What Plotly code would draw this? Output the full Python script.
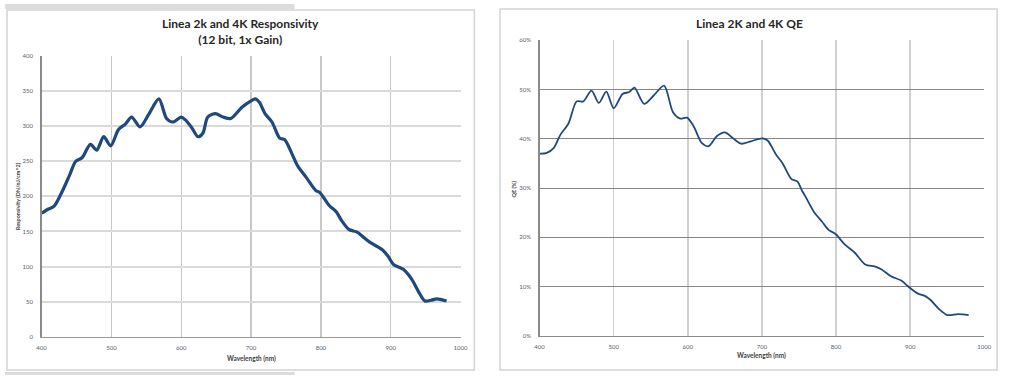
import plotly.graph_objects as go

# ---- data: responsivity (left chart) ----
resp_wl = [400, 410, 418, 430, 440, 449, 458, 470, 479, 489, 499, 510, 520, 529, 541, 553,
           568, 579, 588, 600, 606, 615, 624, 631, 638, 649, 660, 671, 687, 700, 706, 712,
           720, 730, 741, 748, 758, 767, 779, 793, 798, 812, 822, 830, 840, 852, 862, 871,
           888, 896, 904, 918, 930, 940, 949, 958, 966, 980]
resp_val = [176, 182, 186, 208, 230, 250, 255, 274, 266, 285, 272, 295, 303, 313, 299, 316,
            339, 311, 306, 313, 309, 298, 285, 290, 313, 318, 313, 311, 327, 336, 339, 334,
            318, 306, 283, 281, 262, 243, 227, 208, 206, 187, 178, 165, 153, 149, 141, 134,
            124, 115, 103, 96, 82, 64, 51, 52, 54, 51]

# ---- data: quantum efficiency (right chart), percent ----
qe_wl = [400, 409, 419, 428, 439, 450, 459, 470, 480, 490, 500, 512, 521, 528, 541, 554,
         568, 580, 590, 599, 608, 619, 628, 639, 650, 661, 672, 685, 701, 708, 719, 728,
         740, 748, 754, 759, 770, 781, 790, 799, 812, 825, 840, 852, 861, 874, 888, 899,
         910, 921, 928, 939, 950, 965, 979]
qe_val = [37.0, 37.1, 38.1, 40.8, 43.1, 47.6, 47.6, 49.8, 47.3, 49.6, 46.2, 49.1, 49.5, 50.4,
          47.1, 48.8, 50.8, 45.4, 44.1, 44.3, 42.5, 39.1, 38.5, 40.5, 41.3, 40.1, 39.0, 39.5,
          40.1, 39.6, 36.8, 35.0, 31.8, 31.3, 29.5, 28.2, 25.2, 23.2, 21.5, 20.7, 18.5, 16.9,
          14.4, 14.1, 13.5, 12.1, 11.2, 9.8, 8.6, 8.0, 7.2, 5.4, 4.2, 4.4, 4.2]

left_title = "<b>Linea 2k and 4K Responsivity</b><br><b>(12 bit, 1x Gain)</b>"
right_title = "<b>Linea 2K and 4K QE</b>"
x_title = "<b>Wavelength (nm)</b>"
left_ytitle = "<b>Responsivity (DN/nJ/cm^2)</b>"
right_ytitle = "<b>QE (%)</b>"

W, H = 1012, 378
def px(x):
    return x / W
def py(y):
    return 1 - y / H

LINE = "#1F497D"
TICKFONT = dict(family="Lato", size=6, color="#55606E")
FONT = "Lato"

fig = go.Figure()
fig.add_trace(go.Scatter(x=resp_wl, y=resp_val, mode="lines",
                         line=dict(color=LINE, width=3.2, shape="spline", smoothing=0.8),
                         xaxis="x", yaxis="y", hoverinfo="skip"))
fig.add_trace(go.Scatter(x=qe_wl, y=qe_val, mode="lines",
                         line=dict(color=LINE, width=1.8, shape="spline", smoothing=0.8),
                         xaxis="x2", yaxis="y2", hoverinfo="skip"))

common_x = dict(range=[400, 1000], dtick=100, tick0=400, showline=True, linewidth=1.3,
                showgrid=True, ticks="", tickfont=TICKFONT, ticklabelstandoff=5, zeroline=False,
                fixedrange=True)
common_y = dict(showline=True, linewidth=1.3, showgrid=True, ticks="", tickfont=TICKFONT,
                ticklabelstandoff=6, zeroline=False, fixedrange=True)

fig.update_layout(
    width=W, height=H, margin=dict(l=0, r=0, t=0, b=0),
    paper_bgcolor="white", plot_bgcolor="white", showlegend=False,
    xaxis=dict(domain=[px(37), px(461)], anchor="y", gridcolor="#C8C8C8", gridwidth=1.3,
               linecolor="#9A9A9A", **common_x),
    yaxis=dict(domain=[py(339), py(53)], anchor="x", range=[0, 400], dtick=50,
               gridcolor="#DADADA", gridwidth=2, linecolor="#8A8A8A", **common_y),
    xaxis2=dict(domain=[px(541), px(991)], anchor="y2", gridcolor="#D0D0D0", gridwidth=1.5,
                linecolor="#8A8A8A", **common_x),
    yaxis2=dict(domain=[py(338), py(37)], anchor="x2", range=[0, 60], dtick=10,
                ticksuffix="%", gridcolor="#868686", gridwidth=1, linecolor="#8A8A8A", **common_y),
)

shapes = [
    # gray page bands
    dict(type="rect", xref="paper", yref="paper", x0=0, x1=px(293), y0=py(5), y1=1,
         fillcolor="#DCDCDC", line=dict(width=0), layer="below"),
    dict(type="rect", xref="paper", yref="paper", x0=0, x1=px(293), y0=0, y1=py(375),
         fillcolor="#DCDCDC", line=dict(width=0), layer="below"),
    # panel borders
    dict(type="rect", xref="paper", yref="paper", x0=px(2), x1=px(475), y0=py(373), y1=py(6),
         line=dict(color="#D4D4D4", width=1.5), layer="below"),
    dict(type="rect", xref="paper", yref="paper", x0=px(501), x1=px(1004), y0=py(373), y1=py(5),
         line=dict(color="#D4D4D4", width=1.5), layer="below"),
]
fig.update_layout(shapes=shapes)

def label(text, x, y, size, angle=0, color="#404040"):
    return dict(text=text, x=px(x), y=py(y), xref="paper", yref="paper", showarrow=False,
                xanchor="center", yanchor="middle", textangle=angle, align="center",
                font=dict(family=FONT, size=size, color=color))

ann = [
    label(left_title, 238, 28, 12, color="#262626"),
    label(right_title, 753, 20, 12, color="#262626"),
    label(x_title, 249, 361, 6.5),
    label(x_title, 766, 358, 6.5),
    label(left_ytitle, 14, 196, 5.5, angle=-90),
    label(right_ytitle, 515, 188, 5.5, angle=-90),
]
fig.update_layout(annotations=ann)

fig.write_html("out.html", config={"displayModeBar": False, "staticPlot": True},
               post_script="document.body.style.margin='0';document.body.style.overflow='hidden';")
